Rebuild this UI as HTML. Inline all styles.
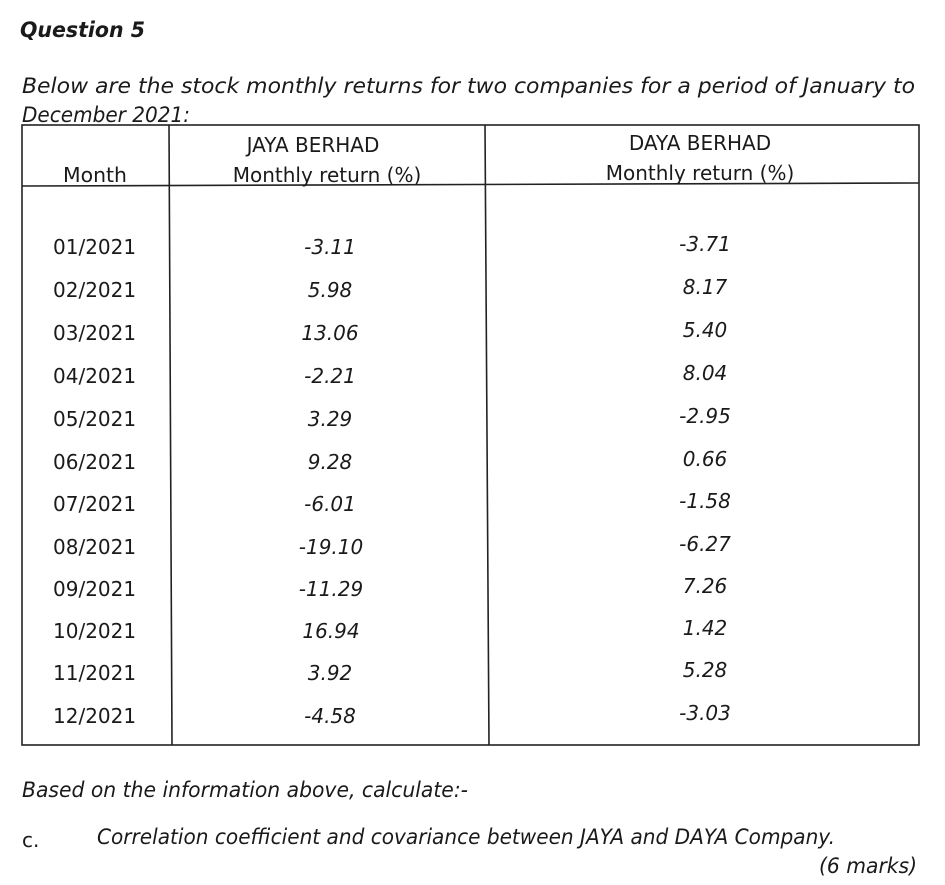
<!DOCTYPE html>
<html><head><meta charset="utf-8"><style>
html,body{margin:0;padding:0;background:#fff;}
svg{display:block;}
text{font-family:"DejaVu Sans","Liberation Sans",sans-serif;fill:#1a1a1a;}
.i{font-style:italic;}
</style></head><body>
<svg width="945" height="885" viewBox="0 0 945 885" xmlns="http://www.w3.org/2000/svg">
<rect width="945" height="885" fill="#fff"/>
<text x="20" y="37" class="i" font-weight="bold" font-size="21" textLength="125" lengthAdjust="spacingAndGlyphs">Question 5</text>
<text x="22" y="93" class="i" font-size="21" textLength="893" lengthAdjust="spacingAndGlyphs">Below are the stock  monthly returns for  two companies for a period of January to</text>
<text x="22" y="122" class="i" font-size="21" textLength="168" lengthAdjust="spacingAndGlyphs">December 2021:</text>
<g stroke="#222" stroke-width="1.6" fill="none">
<rect x="22" y="125" width="897" height="620"/>
<line x1="169" y1="125" x2="172" y2="745"/>
<line x1="485" y1="125" x2="489" y2="745"/>
<line x1="22" y1="186" x2="919" y2="183"/>
</g>
<g font-size="20">
<text x="63" y="182" textLength="64" lengthAdjust="spacingAndGlyphs">Month</text>
<text x="313" y="152" text-anchor="middle">JAYA BERHAD</text>
<text x="327" y="182" text-anchor="middle">Monthly return (%)</text>
<text x="700" y="150" text-anchor="middle">DAYA BERHAD</text>
<text x="700" y="180" text-anchor="middle">Monthly return (%)</text>
</g>
<g font-size="20">
<text x="53" y="254">01/2021</text>
<text x="53" y="297">02/2021</text>
<text x="53" y="340">03/2021</text>
<text x="53" y="383">04/2021</text>
<text x="53" y="426">05/2021</text>
<text x="53" y="469">06/2021</text>
<text x="53" y="511">07/2021</text>
<text x="53" y="554">08/2021</text>
<text x="53" y="596">09/2021</text>
<text x="53" y="638">10/2021</text>
<text x="53" y="680">11/2021</text>
<text x="53" y="723">12/2021</text>
</g>
<g font-size="20" class="i" text-anchor="middle">
<text x="330" y="254">-3.11</text>
<text x="330" y="297">5.98</text>
<text x="330" y="340">13.06</text>
<text x="330" y="383">-2.21</text>
<text x="330" y="426">3.29</text>
<text x="330" y="469">9.28</text>
<text x="330" y="511">-6.01</text>
<text x="331" y="554">-19.10</text>
<text x="331" y="596">-11.29</text>
<text x="331" y="638">16.94</text>
<text x="330" y="680">3.92</text>
<text x="330" y="723">-4.58</text>
<text x="705" y="251">-3.71</text>
<text x="705" y="294">8.17</text>
<text x="705" y="337">5.40</text>
<text x="705" y="380">8.04</text>
<text x="705" y="423">-2.95</text>
<text x="705" y="466">0.66</text>
<text x="705" y="508">-1.58</text>
<text x="705" y="551">-6.27</text>
<text x="705" y="593">7.26</text>
<text x="705" y="635">1.42</text>
<text x="705" y="677">5.28</text>
<text x="705" y="720">-3.03</text>
</g>
<text x="22" y="797" class="i" font-size="21" textLength="446" lengthAdjust="spacingAndGlyphs">Based on the information above, calculate:-</text>
<text x="22" y="847" font-size="20">c.</text>
<text x="97" y="844" class="i" font-size="21" textLength="738" lengthAdjust="spacingAndGlyphs">Correlation coefficient and covariance between JAYA and DAYA Company.</text>
<text x="917" y="873" class="i" font-size="21" text-anchor="end" textLength="98" lengthAdjust="spacingAndGlyphs">(6 marks)</text>
</svg>
</body></html>
